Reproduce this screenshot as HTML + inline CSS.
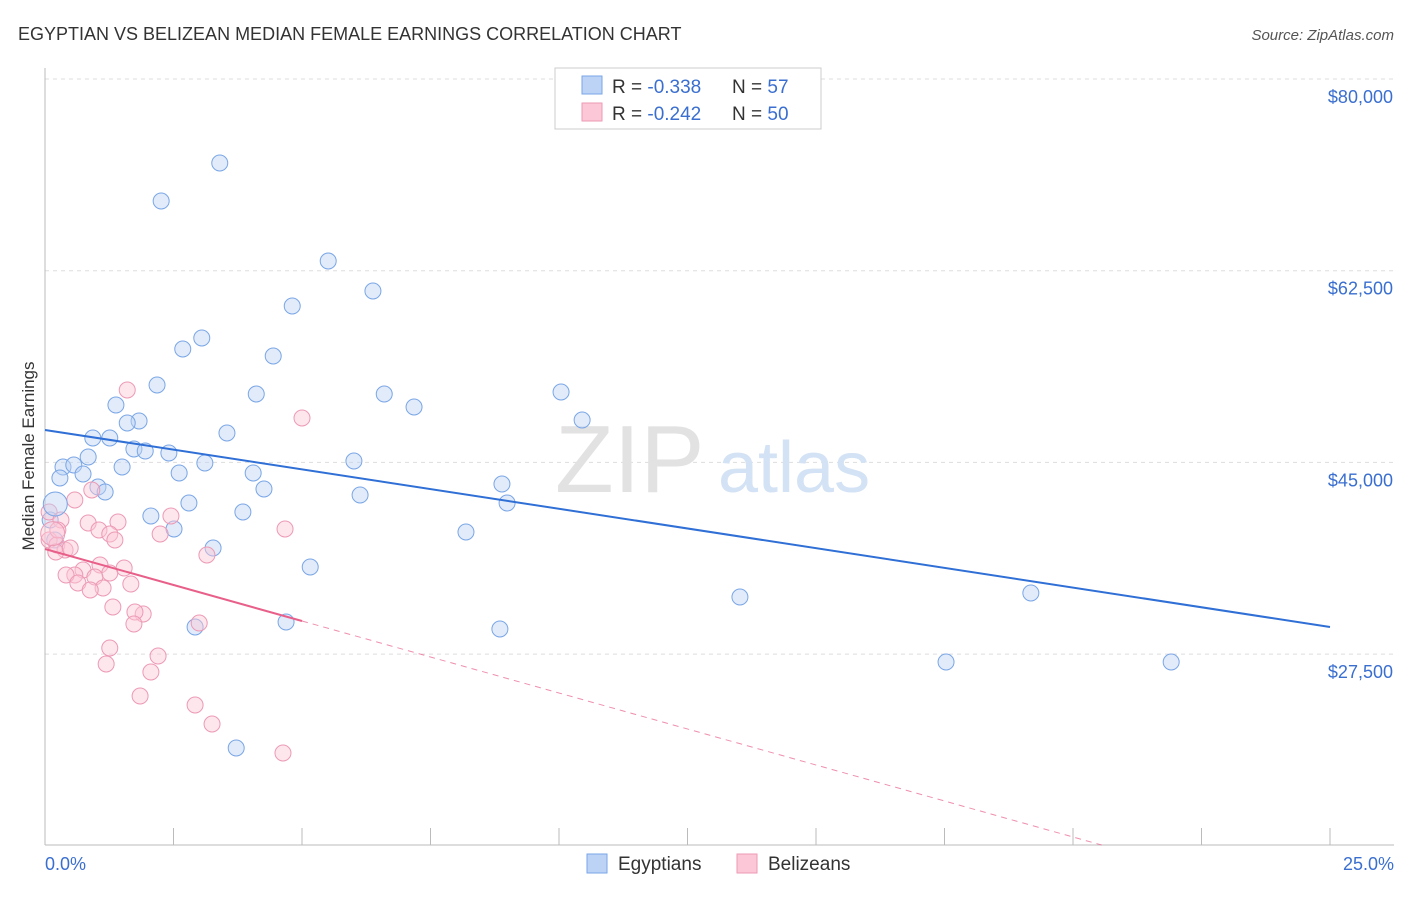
<!DOCTYPE html>
<html><head><meta charset="utf-8"><style>
body{margin:0;background:#fff;font-family:"Liberation Sans",sans-serif}
svg text{font-family:"Liberation Sans",sans-serif}
</style></head><body>
<svg width="1406" height="892" xmlns="http://www.w3.org/2000/svg">
<text x="18" y="40" font-size="18" fill="#333">EGYPTIAN VS BELIZEAN MEDIAN FEMALE EARNINGS CORRELATION CHART</text>
<text x="1394" y="40" font-size="15" fill="#555" font-style="italic" text-anchor="end">Source: ZipAtlas.com</text>
<g id="grid"></g>
<g id="axes"></g>
<text x="555" y="492" font-size="96" fill="#e2e2e2" font-family="Liberation Serif">ZIP</text>
<text x="718" y="492" font-size="72" fill="#d3e2f4">atlas</text>
<g id="pts"></g>
<g id="lines"></g>
<text transform="translate(34,456) rotate(-90)" font-size="17" fill="#333" text-anchor="middle">Median Female Earnings</text>
<text x="45" y="870" font-size="18" fill="#3a6fd0">0.0%</text>
<text x="1394" y="870" font-size="18" fill="#3a6fd0" text-anchor="end">25.0%</text>
<g>
<rect x="555" y="68" width="266" height="61" fill="#fff" stroke="#ccc"/>
<rect x="582" y="76" width="20" height="18" fill="#bcd3f5" stroke="#7aa6e6"/>
<rect x="582" y="103" width="20" height="18" fill="#fcc8d8" stroke="#ec9ab5"/>
<text x="612" y="93" font-size="19" fill="#333">R = <tspan fill="#3a6fd0">-0.338</tspan></text>
<text x="732" y="93" font-size="19" fill="#333">N = <tspan fill="#3a6fd0">57</tspan></text>
<text x="612" y="120" font-size="19" fill="#333">R = <tspan fill="#3a6fd0">-0.242</tspan></text>
<text x="732" y="120" font-size="19" fill="#333">N = <tspan fill="#3a6fd0">50</tspan></text>
</g>
<g>
<rect x="587" y="854" width="20" height="19" fill="#bcd3f5" stroke="#7aa6e6"/>
<text x="618" y="870" font-size="19" fill="#333">Egyptians</text>
<rect x="737" y="854" width="20" height="19" fill="#fcc8d8" stroke="#ec9ab5"/>
<text x="768" y="870" font-size="19" fill="#333">Belizeans</text>
</g>
</svg>
<script>
const yTicks=[27500,45000,62500,80000];
const yTickLabels=["$27,500","$45,000","$62,500","$80,000"];
const xTicks=[0,2.5,5,7.5,10,12.5,15,17.5,20,22.5,25];
const bluePx=[[220,163],[161,201],[328,261],[373,291],[292,306],[202,338],[183,349],[273,356],[157,385],[256,394],[384,394],[561,392],[414,407],[116,405],[139,421],[582,420],[127,423],[227,433],[93,438],[110,438],[134,449],[145,451],[169,453],[354,461],[205,463],[88,457],[63,467],[74,465],[122,467],[179,473],[253,473],[60,478],[83,474],[502,484],[98,487],[264,489],[105,492],[360,495],[189,503],[507,503],[151,516],[243,512],[174,529],[466,532],[55,540],[213,548],[310,567],[740,597],[1031,593],[286,622],[195,627],[500,629],[946,662],[1171,662],[236,748],[50,520]];
const pinkPx=[[127,390],[302,418],[92,490],[75,500],[49,512],[171,516],[118,522],[61,520],[88,523],[99,530],[110,534],[160,534],[285,529],[115,540],[49,540],[57,545],[65,550],[56,552],[207,555],[100,565],[124,568],[83,570],[110,573],[75,575],[95,577],[66,575],[78,583],[131,584],[103,588],[90,590],[113,607],[143,614],[135,612],[199,623],[134,624],[158,656],[110,648],[106,664],[151,672],[140,696],[195,705],[212,724],[283,753],[58,530],[70,548]];
const blueX=bluePx.map(p=>+((p[0]-45)/51.4).toFixed(2)), blueY=bluePx.map(p=>Math.round(80000-(p[1]-79)*91.29));
const pinkX=pinkPx.map(p=>+((p[0]-45)/51.4).toFixed(2)), pinkY=pinkPx.map(p=>Math.round(80000-(p[1]-79)*91.29));
const blueTrend=[47960,29974];
const pinkTrend=[37095,4230];
const pinkSolidEnd=5;
const bigBlue=[[0.2,41200]], bigPink=[[0.15,38500]];
const sx=v=>45+v*51.4, sy=v=>79+(80000-v)/91.29;
const NS="http://www.w3.org/2000/svg";
function mk(t,a,p){const e=document.createElementNS(NS,t);for(const k in a)e.setAttribute(k,a[k]);p.appendChild(e);return e;}
const grid=document.getElementById('grid'),axes=document.getElementById('axes'),pts=document.getElementById('pts'),lines=document.getElementById('lines');
yTicks.forEach((v,i)=>{const l=mk('line',{x1:45,x2:1394,y1:sy(v),y2:sy(v),stroke:'#ddd','stroke-dasharray':'4,4'},grid);

const t=mk('text',{x:1393,y:sy(v)+24,'font-size':18,fill:'#3a6fd0','text-anchor':'end'},grid);t.textContent=yTickLabels[i];
});
mk('line',{x1:45,x2:45,y1:68,y2:845,stroke:'#bbb'},axes);
mk('line',{x1:45,x2:1394,y1:845,y2:845,stroke:'#bbb'},axes);
xTicks.forEach(v=>{const l=mk('line',{x1:sx(v),x2:sx(v),y1:828,y2:845,stroke:'#bbb'},axes);
});
function dots(X,Y,fill,stroke,r,name){X.forEach((x,i)=>{const c=mk('circle',{cx:sx(x),cy:sy(Y[i]),r:r,fill:fill,'fill-opacity':0.45,stroke:stroke,'stroke-width':1},pts);
});}
dots(blueX,blueY,'#bcd3f5','#7aa6e6',8,'egyptian-point');
dots(pinkX,pinkY,'#fcc8d8','#ec9ab5',8,'belizean-point');
dots(bigBlue.map(p=>p[0]),bigBlue.map(p=>p[1]),'#bcd3f5','#7aa6e6',12,'egyptian-point');
dots(bigPink.map(p=>p[0]),bigPink.map(p=>p[1]),'#fcc8d8','#ec9ab5',12,'belizean-point');
let l=mk('line',{x1:sx(0),y1:sy(blueTrend[0]),x2:sx(25),y2:sy(blueTrend[1]),stroke:'#2f6fd6','stroke-width':2},lines);

const pAt=x=>pinkTrend[0]+(pinkTrend[1]-pinkTrend[0])*x/25;
l=mk('line',{x1:sx(0),y1:sy(pinkTrend[0]),x2:sx(pinkSolidEnd),y2:sy(pAt(pinkSolidEnd)),stroke:'#e8608a','stroke-width':2},lines);

const xEnd=25*(10070-pinkTrend[0])/(pinkTrend[1]-pinkTrend[0]);
l=mk('line',{x1:sx(pinkSolidEnd),y1:sy(pAt(pinkSolidEnd)),x2:sx(xEnd),y2:sy(pAt(xEnd)),stroke:'#e8608a','stroke-width':1,'stroke-dasharray':'6,5','stroke-opacity':0.7},lines);

</script>
</body></html>
